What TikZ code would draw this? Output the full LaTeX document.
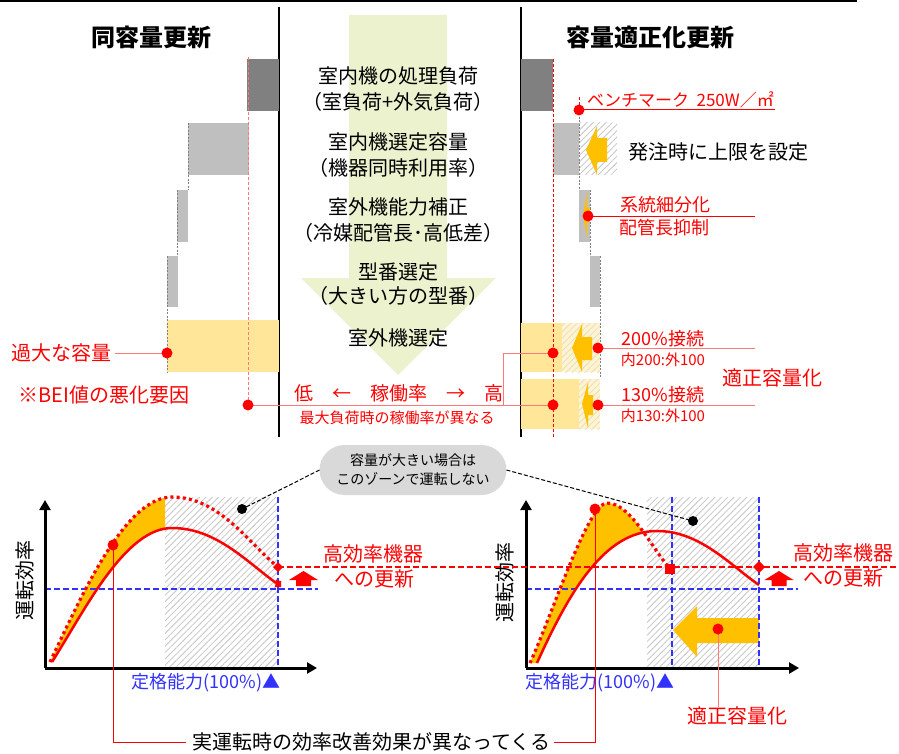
\documentclass[tikz,border=0pt]{standalone}
\usepackage{fontspec}
\setmainfont{Noto Sans CJK JP}
\usetikzlibrary{patterns.meta,arrows.meta}
\definecolor{midc}{RGB}{236,241,206}
\definecolor{ylw}{RGB}{255,230,153}
\definecolor{org}{RGB}{255,192,0}
\definecolor{dgr}{RGB}{128,128,128}
\definecolor{lgr}{RGB}{191,191,191}
\definecolor{bubc}{RGB}{217,217,217}
\definecolor{rd}{RGB}{255,0,0}
\definecolor{lrd}{RGB}{255,120,120}
\definecolor{bl}{RGB}{50,50,255}
\newcommand{\myfs}[1]{\fontsize{#1}{#1}\selectfont}
\begin{document}
\begin{tikzpicture}[x=1pt,y=-1pt,
  every node/.style={inner sep=0pt,outer sep=0pt},
  tx/.style={font=\myfs{20}},
  rtx/.style={font=\myfs{19},text=rd},
  rln/.style={draw=lrd,line width=1pt},
  rlnb/.style={draw=rd,line width=1pt},
  gdash/.style={draw=gray,line width=0.6pt,dash pattern=on 2pt off 1.5pt},
  rdash/.style={draw=rd,line width=0.8pt,dash pattern=on 3pt off 2pt},
  bdash/.style={draw=bl,line width=1.6pt,dash pattern=on 6pt off 3pt},
  rhdash/.style={draw=rd,line width=1.8pt,dash pattern=on 6pt off 3pt},
  hatchg/.style={pattern={Lines[angle=45,distance=4.5pt,line width=0.8pt]},pattern color=gray!45},
  hatchy/.style={pattern={Lines[angle=45,distance=4.5pt,line width=0.8pt]},pattern color=ylw!70!gray!60},
  axisln/.style={line width=3pt,-{Triangle[length=10pt,width=11pt]}},
  solidc/.style={draw=rd,line width=2.5pt},
  dotc/.style={draw=rd,line width=3.2pt,dash pattern=on 3pt off 3.2pt,line cap=butt},
  bluetx/.style={font=\myfs{18},text=bl},
  dotmark/.style={fill=rd}
]
\useasboundingbox (0,0) rectangle (899,754);

% ---------- frame lines ----------
\draw[line width=1.5pt] (0,1) coordinate (tlA) -- (857,1) coordinate (tlB);
\draw[line width=2pt] (279,7) coordinate (v1a) -- (279,437) coordinate (v1b);
\draw[line width=2pt] (521,7) coordinate (v2a) -- (521,437) coordinate (v2b);

% ---------- titles ----------
\node[font=\bfseries\myfs{24}] (t1) at (151,37) {同容量更新};
\node[font=\bfseries\myfs{24}] (t2) at (650,37) {容量適正化更新};

% ---------- middle arrow ----------
\fill[midc] (349,15) -- (447,15) -- (447,278) -- (496,278) -- (398,375) -- (301,278) -- (349,278) -- cycle;
\node[tx] (m1) at (398,76) {室内機の処理負荷};
\node[tx] (m2) at (398,102) {（室負荷+外気負荷）};
\node[tx] (m3) at (398,142) {室内機選定容量};
\node[tx] (m4) at (398,168) {（機器同時利用率）};
\node[tx] (m5) at (398,207) {室外機能力補正};
\node[tx] (m6) at (398,233) {（冷媒配管長･高低差）};
\node[tx] (m7) at (398,272) {型番選定};
\node[tx] (m8) at (398,296) {（大きい方の型番）};
\node[tx] (m9) at (398,338) {室外機選定};
\node[rtx] (m10) at (399,393) {低　←　稼働率　→　高};
\node[rtx,font=\myfs{15}] (m11) at (397,418) {最大負荷時の稼働率が異なる};

% ---------- left bars ----------
\fill[dgr] (247,59) rectangle (279,111);
\fill[lgr] (188,123) rectangle (249,175);
\fill[lgr] (177,190) rectangle (188,242);
\fill[lgr] (167,256) rectangle (178,307);
\fill[ylw] (167,320) rectangle (279,372);
\draw[gdash] (188,123) -- (188,190);
\draw[gdash] (177,190) -- (177,256);
\draw[gdash] (167,256) -- (167,372);
\coordinate (lA) at (248,57);
\coordinate (lB) at (248,405);
\draw[rdash,draw=lrd] (lA) -- (lB);

\node[rtx,font=\myfs{20}] (over) at (61,353) {過大な容量};
\coordinate (pOver) at (167,353);
\draw[rln] ([xshift=4pt]over.east) -- (pOver);
\fill[dotmark] (pOver) circle (5.5pt);
\node[rtx,font=\myfs{20}] (bei) at (104,395) {※BEI値の悪化要因};

% ---------- right bars ----------
\fill[dgr] (521,59) rectangle (553,111);
\fill[lgr] (553,123) rectangle (579,175);
\fill[white] (579,123) rectangle (617,175);
\fill[hatchg] (579,123) rectangle (617,175);
\fill[lgr] (579,190) rectangle (590,242);
\fill[lgr] (590,256) rectangle (600,307);
\fill[ylw] (521,323) rectangle (562,372);
\fill[ylw!45] (562,323) rectangle (600,372);
\fill[hatchy] (562,323) rectangle (600,372);
\fill[ylw] (521,379) rectangle (579,429);
\fill[ylw!45] (579,379) rectangle (600,429);
\fill[hatchy] (579,379) rectangle (600,429);
\draw[gdash] (579,110) -- (579,190);
\draw[gdash] (590,190) -- (590,256);
\draw[gdash] (600,256) -- (600,378);
\draw[rdash] (579,97) -- (579,110);
\coordinate (rA) at (553,59);
\coordinate (rB) at (553,437);
\draw[rdash] (rA) -- (rB);

% orange arrows (right column)
\fill[org] (586,150) -- (597,126) -- (597,138) -- (607,138) -- (607,162) -- (597,162) -- (597,175) -- cycle;
\fill[org] (583,215) -- (587,192) -- (587,208) -- (590,208) -- (590,222) -- (587,222) -- (587,238) -- cycle;
\fill[org] (572,348) -- (582,324) -- (582,337) -- (592,337) -- (592,360) -- (582,360) -- (582,372) -- cycle;
\fill[org] (582,404) -- (588,382) -- (588,395) -- (593,395) -- (593,415) -- (588,415) -- (588,428) -- cycle;

% benchmark
\coordinate (pBen) at (579,110);
\coordinate (eBen) at (775,110);
\draw[rlnb] (pBen) -- (eBen);
\fill[dotmark] (pBen) circle (5.5pt);
\node[rtx,font=\myfs{17},anchor=south west] (ben) at (587,108) {ベンチマーク\ \ 250W／㎡};
\node[tx] (order) at (718,152) {発注時に上限を設定};

% subdivision
\coordinate (pSub) at (588,216);
\coordinate (eSub) at (755,216);
\draw[rlnb] (pSub) -- (eSub);
\fill[dotmark] (pSub) circle (5.5pt);
\node[rtx,font=\myfs{18},anchor=west] (sub1) at (620,205) {系統細分化};
\node[rtx,font=\myfs{18},anchor=west] (sub2) at (619,228) {配管長抑制};

% connection ratio
\coordinate (p200) at (598,348);
\coordinate (e200) at (755,348);
\coordinate (p130) at (598,405);
\coordinate (e130) at (755,405);
\draw[rln] (p200) -- (e200);
\draw[rln] (p130) -- (e130);
\fill[dotmark] (p200) circle (5.5pt);
\fill[dotmark] (p130) circle (5.5pt);
\node[rtx,font=\myfs{18}] (c200) at (663,339) {200\%接続};
\node[rtx,font=\myfs{15}] (c200b) at (663,360) {内200:外100};
\node[rtx,font=\myfs{18}] (c130) at (663,395) {130\%接続};
\node[rtx,font=\myfs{15}] (c130b) at (663,416) {内130:外100};
\node[rtx,font=\myfs{20}] (opt1) at (772,378) {適正容量化};

% operating-rate connectors
\coordinate (q1) at (553,353);
\coordinate (q2) at (553,405);
\coordinate (qc) at (503,405);
\draw[rln] (lB) -- (q2);
\draw[rln] (qc) |- (q1);
\fill[dotmark] (lB) circle (5.5pt);
\fill[dotmark] (q1) circle (5.5pt);
\fill[dotmark] (q2) circle (5.5pt);

% ---------- bubble ----------
\node[fill=bubc,rounded corners=25pt,minimum width=187pt,minimum height=50pt,align=center,font=\fontsize{14}{19}\selectfont] (bub) at (413,470) {容量が大きい場合は\\このゾーンで運転しない};
\coordinate (bk1) at (242,509);
\coordinate (bk2) at (693,521);

% ---------- left chart ----------
\fill[white] (165,497) rectangle (278,668);
\fill[hatchg] (165,497) rectangle (278,668);
\begin{scope}
\clip (0,480) rectangle (165,680);
\fill[org] (50,662) .. controls (82,595) and (125,497) .. (172,497) .. controls (220,497) and (250,545) .. (278,567)
  -- (276,583) .. controls (245,560) and (215,528) .. (172,528) .. controls (125,528) and (85,610) .. (52,662) -- cycle;
\end{scope}
\draw[bdash] (278,497) -- (278,668);
\draw[bdash] (45,589) -- (318,589);
\coordinate (o1) at (45,668);
\draw[axisln] (o1) -- (45,500);
\draw[axisln] (o1) -- (317,668);
\draw[dotc] (50,662) .. controls (82,595) and (125,497) .. (172,497) .. controls (220,497) and (250,545) .. (278,567);
\draw[solidc] (52,662) .. controls (85,610) and (125,528) .. (172,528) .. controls (215,528) and (245,560) .. (276,583);
\fill[rd] (278,562) -- (283,567) -- (278,572) -- (273,567) -- cycle;
\fill[rd] (276,580) -- (281,581) -- (281,587) -- (275,587) -- cycle;
\node[font=\myfs{20},rotate=90] (ylab1) at (25,580) {運転効率};
\node[bluetx] (rate1) at (206,683) {定格能力(100\%)▲};

% ---------- right chart ----------
\fill[white] (647,497) rectangle (759,668);
\fill[hatchg] (647,497) rectangle (759,668);
\begin{scope}
\clip (500,480) rectangle (642,680);
\fill[org] (530,663) .. controls (552,615) and (588,503) .. (607,503) .. controls (630,503) and (650,545) .. (670,569)
  -- (759,585) .. controls (730,565) and (700,531) .. (657,531) .. controls (605,531) and (570,590) .. (537,663) -- cycle;
\end{scope}
% big orange arrow
\fill[org] (673,630) -- (697,606) -- (697,618) -- (759,618) -- (759,643) -- (697,643) -- (697,657) -- cycle;
\draw[bdash] (672,497) -- (672,668);
\draw[bdash] (759,497) -- (759,668);
\draw[bdash] (526,589) -- (798,589);
\coordinate (o2) at (526,668);
\draw[axisln] (o2) -- (526,500);
\draw[axisln] (o2) -- (799,668);
\draw[dotc] (530,663) .. controls (552,615) and (588,503) .. (607,503) .. controls (630,503) and (650,545) .. (670,569);
\draw[solidc] (537,663) .. controls (570,590) and (605,531) .. (657,531) .. controls (700,531) and (730,565) .. (759,585);
\fill[rd] (665,564) rectangle (675,574);
\fill[rd] (759,561) -- (765,567) -- (759,573) -- (753,567) -- cycle;
\node[font=\myfs{20},rotate=90] (ylab2) at (505,582) {運転効率};
\node[bluetx] (rate2) at (600,683) {定格能力(100\%)▲};

% ---------- high-efficiency upgrade ----------
\coordinate (hA) at (278,567);
\coordinate (hB) at (899,567);
\draw[rhdash] (hA) -- (hB);
\node[rtx,font=\myfs{20}] (hi1) at (373,554) {高効率機器};
\node[rtx,font=\myfs{20}] (hi2) at (374,579) {への更新};
\node[rtx,font=\myfs{20}] (hi3) at (843,553) {高効率機器};
\node[rtx,font=\myfs{20}] (hi4) at (843,578) {への更新};
\fill[rd] (303.5,571) -- (318,580) -- (311,580) -- (311,586) -- (296,586) -- (296,580) -- (289,580) -- cycle;
\fill[rd] (779,571) -- (793.5,580) -- (786.5,580) -- (786.5,586) -- (771.5,586) -- (771.5,580) -- (764.5,580) -- cycle;

% ---------- bubble pointers ----------
\draw[black,line width=1pt,dash pattern=on 4pt off 2pt] (bub.west) -- (bk1);
\draw[black,line width=1pt,dash pattern=on 4pt off 2pt] (bub.east) -- (bk2);
\fill[black] (bk1) circle (5pt);
\fill[black] (bk2) circle (5pt);

% ---------- efficiency improvement ----------
\node[font=\myfs{20}] (eff) at (371,742) {実運転時の効率改善効果が異なってくる};
\coordinate (pe1) at (113,545);
\coordinate (pe2) at (595,509);
\draw[rlnb] (pe1) |- ([xshift=-6pt]eff.west);
\draw[rlnb] ([xshift=4pt]eff.east) -| (pe2);
\fill[dotmark] (pe1) circle (5.5pt);
\fill[dotmark] (pe2) circle (5.5pt);

% ---------- right-sizing ----------
\node[rtx,font=\myfs{20}] (opt2) at (737,716) {適正容量化};
\coordinate (pOpt) at (718,629);
\draw[rln] (pOpt) -- (pOpt |- opt2.north);
\fill[dotmark] (pOpt) circle (5.5pt);
\end{tikzpicture}
\end{document}
